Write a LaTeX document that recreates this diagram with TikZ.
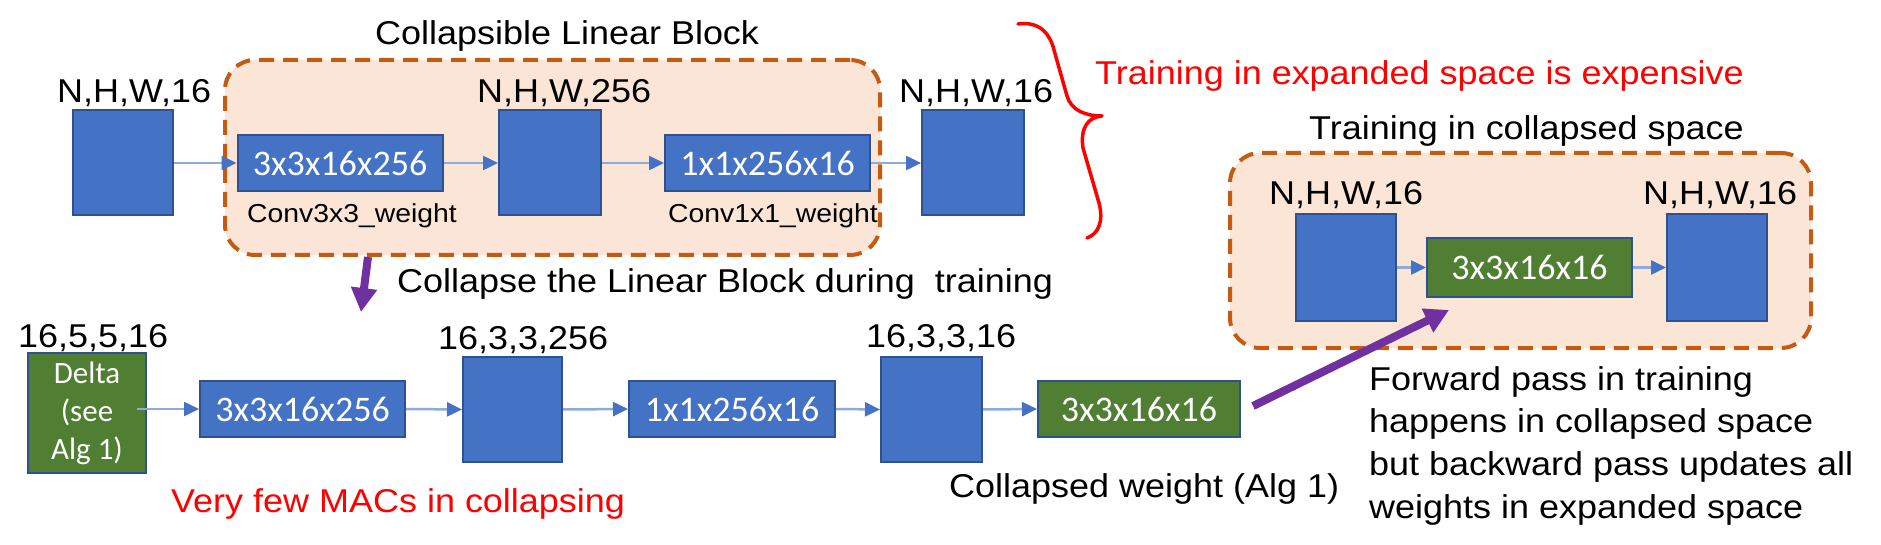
\documentclass[tikz,border=0pt]{standalone}
\usepackage{fontspec}
\setmainfont[FakeStretch=1.09]{Liberation Sans}
\newfontfamily\boxfont{Carlito}
\usetikzlibrary{arrows.meta}
\definecolor{fblue}{HTML}{4472C4}
\definecolor{dblue}{HTML}{2F528F}
\definecolor{fgreen}{HTML}{507E32}
\definecolor{lineblue}{HTML}{8FAADC}
\definecolor{orangeb}{HTML}{C55A11}
\definecolor{peach}{HTML}{FBE5D6}
\definecolor{purp}{HTML}{7030A0}
\definecolor{redt}{HTML}{FF0000}
\begin{document}
\begin{tikzpicture}[x=1pt,y=-1pt,
  fmap/.style={draw=dblue, line width=2pt, fill=fblue, minimum width=100pt, minimum height=105pt, inner sep=0pt},
  wbox/.style={draw=dblue, line width=2pt, fill=fblue, minimum width=205pt, minimum height=56pt, inner sep=0pt, text=white, font=\boxfont\fontsize{36}{43}\selectfont},
  gbox/.style={wbox, fill=fgreen},
  blk/.style={draw=orangeb, fill=peach, line width=4pt, dash pattern=on 15pt off 9pt, rounded corners=30pt, inner sep=0pt},
  lab/.style={anchor=base west, inner sep=0pt, font=\fontsize{33}{40}\selectfont},
  slab/.style={anchor=base west, inner sep=0pt, font=\fontsize{26}{31}\selectfont},
  redlab/.style={lab, text=redt},
  conn/.style={draw=lineblue, line width=2.5pt, -{Triangle[length=15pt,width=14pt,color=fblue]}},
  bigarrow/.style={draw=purp, line width=8pt, -{Triangle[length=24pt,width=25pt]}},
]
\useasboundingbox (0,0) rectangle (1881,545);
\fill[white] (0,0) rectangle (1881,545);

% dashed blocks
\node[blk, minimum width=655pt, minimum height=195pt] (blk1) at (552.5,157.5) {};
\node[blk, minimum width=581pt, minimum height=195pt] (blk2) at (1520.5,250.5) {};

% titles
\node[lab] (ttl1) at (375,45) {Collapsible Linear Block};
\node[redlab] (exp) at (1095,85) {Training in expanded space is expensive};
\node[lab] (ttl2) at (1309,140) {Training in collapsed space};

% brace
\draw[redt, line width=3.5pt, line cap=round, line join=round]
  (1018,24) .. controls (1040,21) and (1050,34) .. (1054,50) -- (1067,96)
  .. controls (1071,110) and (1085,116) .. (1102,116)
  .. controls (1088,117) and (1080,128) .. (1083,148) -- (1099,203)
  .. controls (1104,222) and (1098,234) .. (1087,238);

% row 1
\node[lab] (t1) at (57,103) {N,H,W,16};
\node[fmap] (b1) at (123,163) {};
\node[wbox] (w1) at (340,163) {3x3x16x256};
\node[slab] (c1) at (247,223) {Conv3x3\_weight};
\node[lab] (t2) at (477,103) {N,H,W,256};
\node[fmap, minimum width=102pt] (b2) at (550,163) {};
\node[wbox] (w2) at (767.5,163) {1x1x256x16};
\node[slab] (c2) at (668,223) {Conv1x1\_weight};
\node[lab] (t3) at (899,103) {N,H,W,16};
\node[fmap, minimum width=102pt] (b3) at (973,163) {};
\draw[conn] (b1.east) -- (w1.west);
\draw[conn] (w1.east) -- (b2.west);
\draw[conn] (b2.east) -- (w2.west);
\draw[conn] (w2.east) -- (b3.west);

% collapsed space block
\node[lab] (t4) at (1269,205) {N,H,W,16};
\node[fmap, minimum height=107pt] (b4) at (1346,267.5) {};
\node[gbox, minimum height=58pt] (g1) at (1529.5,267.5) {3x3x16x16};
\node[lab] (t5) at (1643,205) {N,H,W,16};
\node[fmap, minimum height=107pt] (b5) at (1717,267.5) {};
\draw[conn] (b4.east) -- (g1.west);
\draw[conn] (g1.east) -- (b5.west);

% collapse arrow
\coordinate (ca1) at (368,257);
\coordinate (ca2) at (361,312);
\draw[bigarrow] (ca1) -- (ca2);
\node[lab] (coll) at (397,292) {Collapse the Linear Block during\ \ training};

% row 2
\node[lab] (t6) at (18,347) {16,5,5,16};
\node[gbox, minimum width=118pt, minimum height=120pt, align=center, font=\boxfont\fontsize{31}{38}\selectfont] (delta) at (87,413) {Delta\\(see\\Alg 1)};
\coordinate (ds) at (137,409);
\node[wbox] (w3) at (302.5,409) {3x3x16x256};
\node[lab] (t7) at (438,349) {16,3,3,256};
\node[fmap, minimum width=99pt] (b6) at (512.5,409.5) {};
\node[wbox, minimum width=206pt] (w4) at (732,409) {1x1x256x16};
\node[lab] (t8) at (866,347) {16,3,3,16};
\node[fmap, minimum width=101pt] (b7) at (931.5,409.5) {};
\node[gbox, minimum width=202pt] (g2) at (1139,409) {3x3x16x16};
\draw[conn] (ds) -- (w3.west);
\draw[conn] (w3.east) -- (b6.west);
\draw[conn] (b6.east) -- (w4.west);
\draw[conn] (w4.east) -- (b7.west);
\draw[conn] (b7.east) -- (g2.west);

\node[redlab] (macs) at (171,512) {Very few MACs in collapsing};
\node[lab] (cw) at (949,497) {Collapsed weight (Alg 1)};

% forward arrow
\coordinate (fa1) at (1253,406);
\coordinate (fa2) at (1449,310);
\draw[bigarrow] (fa1) -- (fa2);

\node[anchor=north west, inner sep=0pt, align=left, font=\fontsize{33}{42.7}\selectfont] (fwd) at (1369,366)
  {Forward pass in training\\happens in collapsed space\\but backward pass updates all\\weights in expanded space};
\end{tikzpicture}
\end{document}
